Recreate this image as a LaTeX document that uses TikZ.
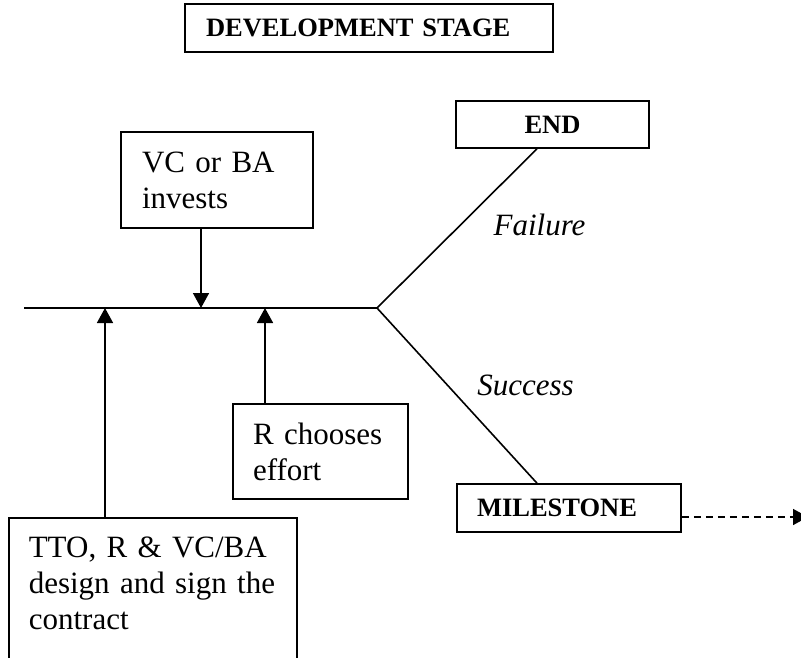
\documentclass[tikz,border=0pt]{standalone}
\usepackage{fontspec}
\setmainfont{Liberation Serif}
\usetikzlibrary{arrows.meta, positioning}
\tikzset{
  % Set arrowhead
  >={Triangle[width=16pt, length=15pt]},
  % Text box
  box/.style={draw, line width=1.6pt, inner xsep=20pt, inner ysep=0pt,
    align=left, font=\fontsize{31}{36}\selectfont},
  % Bold stage box
  sbox/.style={box, font=\fontsize{26.5}{30}\selectfont\bfseries},
  % Branch label
  blabel/.style={font=\fontsize{31}{36}\selectfont\itshape, anchor=base},
  % Lines
  link/.style={line width=1.6pt},
  dashlink/.style={link, dash pattern=on 7pt off 5pt},
}

\begin{document}
\begin{tikzpicture}[x=1pt, y=-1pt]
  \useasboundingbox (0,0) rectangle (801,658);

  % Boxes
  \node[sbox, text width=326pt, inner xsep=21pt, minimum height=48pt]
    (stage) at (369,28) {DEVELOPMENT STAGE};
  \node[sbox, align=center, inner xsep=0pt, minimum width=193pt,
    minimum height=47pt] (endbox) at (552.5,124.5) {END};
  \node[box, text width=150pt, inner xsep=21pt, minimum height=96pt]
    (invest) at (217,180) {VC or BA\\invests};
  \node[box, text width=135pt, minimum height=95pt]
    (effort) at (320.5,451.5) {R chooses\\effort};
  \node[sbox, text width=184pt, minimum height=48pt]
    (milestone) at (569,508) {MILESTONE};
  \node[box, anchor=north west, text width=248pt, inner ysep=19pt,
    text height=21pt, text depth=150pt]
    (contract) at (8,517) {TTO, R \& VC/BA\\design and sign the\\contract};

  % Time line
  \coordinate (start) at (24,308);
  \coordinate (fork) at (377,308);
  \coordinate (vcin) at (201,308);
  \coordinate (signin) at (105,308);
  \coordinate (effin) at (265,308);
  \coordinate (next) at (808,517);

  \draw[link] (start) -- (fork);
  \draw[link, ->] (invest.south -| vcin) -- (vcin);
  \draw[link, ->] (contract.north -| signin) -- (signin);
  \draw[link, ->] (effort.north -| effin) -- (effin);

  % Branches
  \draw[link] (fork) -- ([xshift=-15.5pt]endbox.south);
  \draw[link] (fork) -- ([xshift=-32pt]milestone.north);
  \draw[dashlink, ->] (milestone.east |- next) -- (next);

  \node[blabel] (fail) at (539.5,235) {Failure};
  \node[blabel] (succ) at (525.5,395) {Success};
\end{tikzpicture}
\end{document}
